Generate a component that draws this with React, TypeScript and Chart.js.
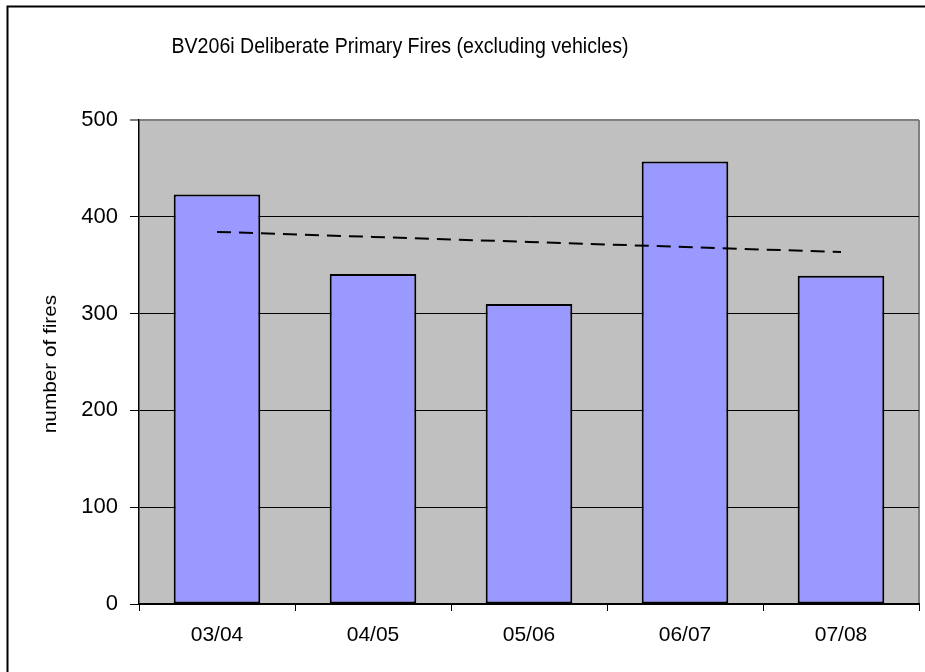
import React, { useEffect, useRef } from "react";
import { Chart, registerables } from "chart.js";

Chart.register(...registerables);

const categories = ["03/04", "04/05", "05/06", "06/07", "07/08"];
const fires = [423, 341, 310, 457, 339];
const trend = [384.4, 379.2, 374, 368.8, 363.6];
const yTicks = [0, 100, 200, 300, 400, 500];

const chartTitle = "BV206i Deliberate Primary Fires (excluding vehicles)";
const yTitle = "number of fires";
const FONT = "'Liberation Sans', Arial, sans-serif";

const decorPlugin = {
  id: "decor",
  beforeDraw(chart: any) {
    const { ctx, chartArea } = chart;
    ctx.save();
    ctx.fillStyle = "#ffffff";
    ctx.fillRect(0, 0, chart.width, chart.height);
    ctx.fillStyle = "#C0C0C0";
    ctx.fillRect(chartArea.left, chartArea.top, chartArea.right - chartArea.left, chartArea.bottom - chartArea.top);
    ctx.strokeStyle = "#808080";
    ctx.lineWidth = 2;
    ctx.beginPath();
    ctx.moveTo(chartArea.right, chartArea.top);
    ctx.lineTo(chartArea.right, chartArea.bottom);
    ctx.stroke();
    ctx.strokeStyle = "#000000";
    ctx.lineWidth = 2;
    ctx.beginPath();
    ctx.moveTo(7.5, chart.height + 2);
    ctx.lineTo(7.5, 6.5);
    ctx.lineTo(chart.width + 2, 6.5);
    ctx.stroke();
    ctx.restore();
  },
  afterDraw(chart: any) {
    const { ctx } = chart;
    ctx.save();
    ctx.fillStyle = "#000";
    ctx.textAlign = "center";
    ctx.textBaseline = "middle";
    ctx.font = `22px ${FONT}`;
    ctx.translate(400, 47);
    ctx.scale(0.89, 1);
    ctx.fillText(chartTitle, 0, 0);
    ctx.restore();
    ctx.save();
    ctx.fillStyle = "#000";
    ctx.textAlign = "center";
    ctx.textBaseline = "middle";
    ctx.translate(51, 364);
    ctx.rotate(-Math.PI / 2);
    ctx.scale(1.22, 1.05);
    ctx.font = `17px ${FONT}`;
    ctx.fillText(yTitle, 0, 0);
    ctx.restore();
  },
};

export default function App() {
  const ref = useRef<HTMLCanvasElement | null>(null);
  useEffect(() => {
    if (!ref.current) return;
    const chart = new Chart(ref.current, {
      type: "bar",
      data: {
        labels: categories,
        datasets: [
          {
            type: "line" as any,
            label: "trend",
            data: trend,
            borderColor: "#000",
            borderWidth: 2,
            borderDash: [14, 8],
            pointRadius: 0,
            fill: false,
            order: 1,
          } as any,
          {
            type: "bar",
            label: "fires",
            data: fires,
            backgroundColor: "#9999FF",
            borderColor: "#000",
            borderWidth: 2,
            borderSkipped: false,
            barPercentage: 0.555,
            categoryPercentage: 1,
            order: 2,
          },
        ],
      },
      options: {
        responsive: false,
        animation: false,
        devicePixelRatio: 1,
        layout: { padding: { left: 0, top: 120, right: 6, bottom: 0 } },
        plugins: { legend: { display: false }, tooltip: { enabled: false }, title: { display: false } },
        scales: {
          x: {
            grid: {
              offset: true,
              drawOnChartArea: false,
              drawTicks: true,
              tickLength: 7,
              tickColor: "#000",
              tickWidth: 1,
            },
            border: { color: "#000", width: 2 },
            ticks: { color: "#000", font: { family: FONT, size: 21 }, padding: 12 },
            afterFit: (s: any) => { s.height = 68; },
          },
          y: {
            min: 0,
            max: 500,
            afterBuildTicks: (s: any) => { s.ticks = yTicks.map((v) => ({ value: v })); },
            grid: {
              color: (c: any) => (c.tick && c.tick.value === 500 ? "#808080" : "#000"),
              lineWidth: (c: any) => (c.tick && c.tick.value === 500 ? 2 : 1),
              tickColor: "#000",
              tickLength: 9,
              tickWidth: 1,
            },
            border: { color: "#000", width: 1.5 },
            ticks: { color: "#000", font: { family: FONT, size: 22 }, padding: 12 },
            afterFit: (s: any) => { s.width = 139; },
          },
        },
      },
      plugins: [decorPlugin],
    });
    return () => chart.destroy();
  }, []);
  return (
    <div style={{ position: "absolute", left: 0, top: 0, width: 925, height: 672 }}>
      <canvas ref={ref} width={925} height={672} style={{ display: "block" }} />
    </div>
  );
}
